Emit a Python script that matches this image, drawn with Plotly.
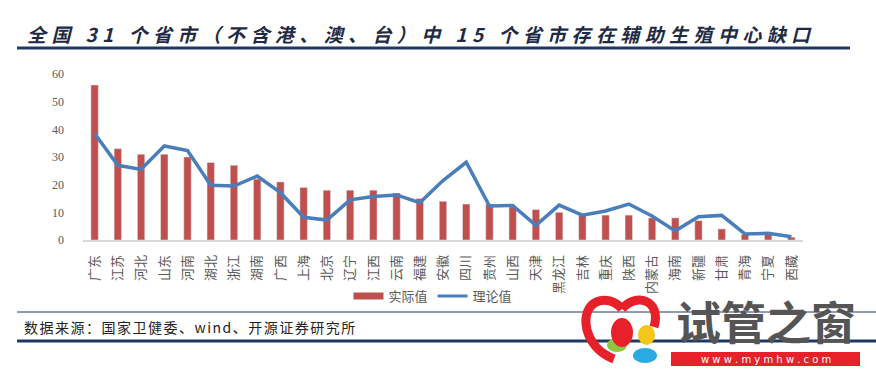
import plotly.graph_objects as go

provinces = ["广东", "江苏", "河北", "山东", "河南", "湖北", "浙江", "湖南", "广西", "上海",
             "北京", "辽宁", "江西", "云南", "福建", "安徽", "四川", "贵州", "山西", "天津",
             "黑龙江", "吉林", "重庆", "陕西", "内蒙古", "海南", "新疆", "甘肃", "青海", "宁夏", "西藏"]
actual = [56, 33, 31, 31, 30, 28, 27, 22, 21, 19, 18, 18, 18, 17, 15, 14, 13, 13, 12, 11,
          10, 9, 9, 9, 8, 8, 7, 4, 2, 2, 1]
theory = [38.5, 27, 25.5, 34, 32.3, 19.8, 19.5, 23.1, 17.1, 8.2, 7.2, 14.5, 15.7, 16.3, 13.5,
          21.5, 28.1, 12.3, 12.5, 5.3, 12.6, 9.0, 10.5, 13.0, 8.7, 3.3, 8.4, 8.9, 2.2, 2.4, 1.2]
y_ticks = [0, 10, 20, 30, 40, 50, 60]

title_text = "全国 31 个省市（不含港、澳、台）中 15 个省市存在辅助生殖中心缺口"
source_text = "数据来源：国家卫健委、wind、开源证券研究所"

W, H = 876, 376
L, R, T, B = 83, 803, 74, 240  # plot area in pixels


def px(x):
    return (x - L) / (R - L)


def py(y):
    return (B - y) / (B - T)


RED = "#C0504D"
BLUE = "#4A7EBB"
NAVY = "#1F3864"
GRAY = "#595959"

fig = go.Figure()
fig.add_trace(go.Bar(x=provinces, y=actual, name="实际值", marker_color=RED,
                     showlegend=False))
fig.add_trace(go.Scatter(x=provinces, y=theory, name="理论值", mode="lines",
                         line=dict(color=BLUE, width=3.5), showlegend=False))
# legend entries
fig.add_trace(go.Scatter(x=[None], y=[None], name="实际值", mode="lines",
                         line=dict(color=RED, width=7)))
fig.add_trace(go.Scatter(x=[None], y=[None], name="理论值", mode="lines",
                         line=dict(color=BLUE, width=3)))

shapes = [
    # title underline
    dict(type="line", xref="paper", yref="paper", x0=px(17), x1=px(850), y0=py(48), y1=py(48),
         line=dict(color=NAVY, width=3)),
    # source lines
    dict(type="line", xref="paper", yref="paper", x0=px(17), x1=px(876), y0=py(312), y1=py(312),
         line=dict(color=NAVY, width=1)),
    dict(type="line", xref="paper", yref="paper", x0=px(17), x1=px(876), y0=py(341), y1=py(341),
         line=dict(color=NAVY, width=3)),
]

# watermark logo (approximate)
heart = (f"M {px(622)},{py(309)} "
         f"C {px(608)},{py(292)} {px(580)},{py(300)} {px(587)},{py(330)} "
         f"C {px(592)},{py(348)} {px(606)},{py(356)} {px(614)},{py(359)} "
         f"M {px(622)},{py(309)} "
         f"C {px(636)},{py(292)} {px(662)},{py(300)} {px(654)},{py(327)}")
shapes.append(dict(type="path", xref="paper", yref="paper", path=heart,
                   line=dict(color="#E8202A", width=9)))
for (x0, y0, x1, y1, col) in [(607, 338, 627, 352, "#8DC63F"),
                              (611, 318, 633, 347, "#E8202A"),
                              (638, 325, 655, 345, "#F5C518"),
                              (633, 348, 657, 363, "#29ABE2")]:
    shapes.append(dict(type="circle", xref="paper", yref="paper",
                       x0=px(x0), x1=px(x1), y0=py(y0), y1=py(y1),
                       fillcolor=col, line=dict(width=0)))
shapes.append(dict(type="rect", xref="paper", yref="paper", x0=px(671), x1=px(860),
                   y0=py(352), y1=py(366), fillcolor="#E8202A", line=dict(width=0)))

annotations = [
    dict(text=title_text, xref="paper", yref="paper", x=px(25), y=py(34),
         xanchor="left", yanchor="middle", align="left", showarrow=False,
         font=dict(family="Noto Sans CJK SC", size=19, color="#1F2A44", style="italic",
                   weight="bold")),
    dict(text=source_text, xref="paper", yref="paper", x=px(22), y=py(327),
         xanchor="left", yanchor="middle", align="left", showarrow=False,
         font=dict(family="Noto Sans CJK SC", size=14, color="#222222")),
    dict(text="<b>试管之窗</b>", xref="paper", yref="paper", x=px(766), y=py(320),
         xanchor="center", yanchor="middle", showarrow=False,
         font=dict(family="Noto Sans CJK SC", size=45, color="#555555")),
    dict(text="w w w . m y m h w . c o m", xref="paper", yref="paper", x=px(766), y=py(359),
         xanchor="center", yanchor="middle", showarrow=False,
         font=dict(family="DejaVu Sans", size=10, color="white")),
]

fig.update_layout(
    width=W, height=H,
    margin=dict(l=L, r=W - R, t=T, b=H - B, autoexpand=False),
    plot_bgcolor="white", paper_bgcolor="white",
    bargap=0.68,
    showlegend=True,
    legend=dict(orientation="h", x=px(433), xanchor="center", y=py(296), yanchor="middle",
                font=dict(family="Noto Sans CJK SC", size=13, color=GRAY),
                itemwidth=30, traceorder="normal"),
    shapes=shapes,
    annotations=annotations,
    xaxis=dict(type="category", tickangle=-90, showgrid=False, automargin=False,
               showline=True, linecolor="#D9D9D9", linewidth=1.5,
               ticks="", tickfont=dict(family="Noto Sans CJK SC", size=13, color=GRAY),
               ticklabelstandoff=8, fixedrange=True),
    yaxis=dict(range=[0, 60], tickvals=y_ticks, showgrid=False, zeroline=False,
               showline=False, ticks="", automargin=False,
               tickfont=dict(family="Liberation Serif", size=12, color=GRAY),
               ticklabelstandoff=18, fixedrange=True),
)

post = """
document.body.style.margin = '0';
var ann = document.querySelectorAll('.annotation-text');
if (ann.length > 0) { ann[0].style.letterSpacing = '5.4px'; }
if (ann.length > 1) { ann[1].style.letterSpacing = '1.5px'; }
"""

fig.write_html("out.html", post_script=post, config={"displayModeBar": False})
